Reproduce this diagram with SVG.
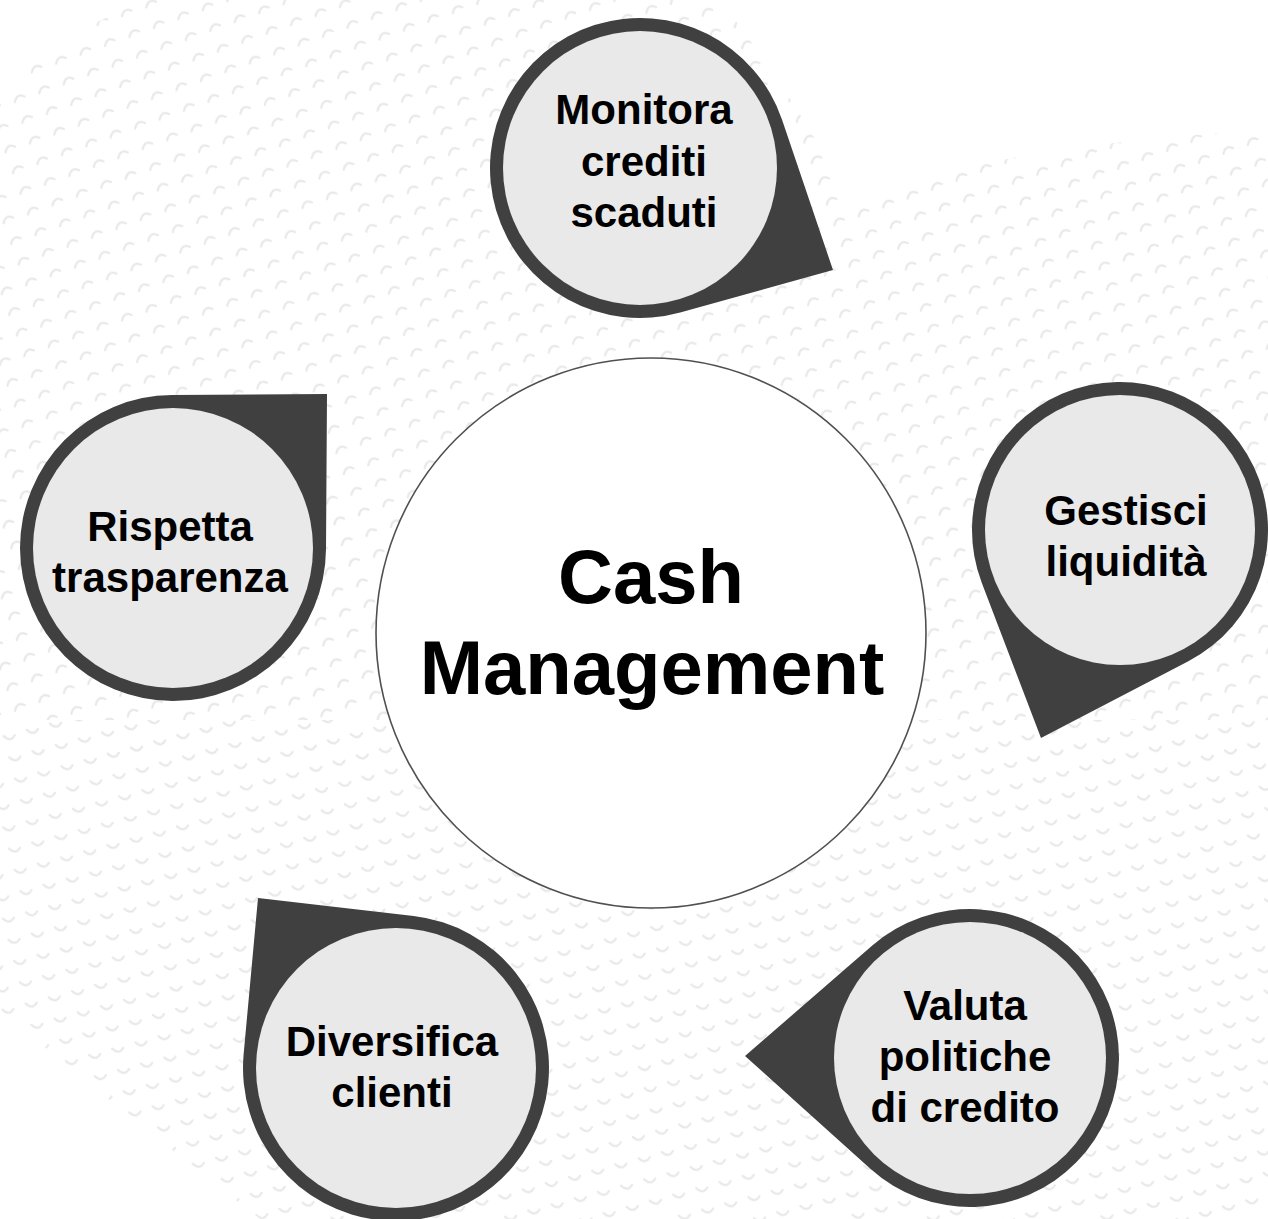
<svg xmlns="http://www.w3.org/2000/svg" width="1268" height="1219" viewBox="0 0 1268 1219">
  <style>
    .ring { fill: #404040; }
    .core { fill: #e9e9e9; }
    .lbl { font-family: "Liberation Sans", Arial, sans-serif; font-weight: bold; font-size: 42px; fill: #000; text-anchor: middle; }
    .hub { font-family: "Liberation Sans", Arial, sans-serif; font-weight: bold; font-size: 76px; fill: #000; text-anchor: middle; }
  </style>
  <defs>
    <pattern id="pUp" width="26" height="22" patternUnits="userSpaceOnUse" patternTransform="rotate(-20)">
      <path d="M5,13 q5,-8 11,-2" fill="none" stroke="#dedede" stroke-width="2.2" stroke-linecap="round"/>
    </pattern>
    <pattern id="pDn" width="24" height="22" patternUnits="userSpaceOnUse" patternTransform="rotate(-15)">
      <path d="M5,8 q5,8 11,2" fill="none" stroke="#dedede" stroke-width="2.2" stroke-linecap="round"/>
    </pattern>
    <clipPath id="bandClip">
      <path d="M0,95 Q60,30 150,0 L720,0 Q790,90 850,200 Q1000,145 1268,130 L1268,1219 L260,1219 Q120,1110 0,1010 Z"/>
    </clipPath>
  </defs>

  <rect width="1268" height="1219" fill="#ffffff"/>
  <g id="background" clip-path="url(#bandClip)" opacity="0.7">
    <rect x="0" y="0" width="1268" height="720" fill="url(#pUp)"/>
    <rect x="0" y="720" width="1268" height="499" fill="url(#pDn)"/>
  </g>

  <g id="connectors"></g>

  <g id="hub">
    <circle cx="651" cy="633" r="275" fill="#ffffff" stroke="#505050" stroke-width="1.6"/>
    <text class="hub" x="651" y="603">Cash</text>
    <text class="hub" x="652" y="694">Management</text>
  </g>

  <g id="node-monitora">
    <path class="ring" transform="translate(640,168) rotate(27.86)" d="M103.07,-108.98 L218.3,0 L103.07,108.98 A150 150 0 1 1 103.07,-108.98 Z"/>
    <circle class="core" cx="640" cy="168" r="137"/>
    <text class="lbl" x="644" y="124">Monitora</text>
    <text class="lbl" x="644" y="176">crediti</text>
    <text class="lbl" x="644" y="227">scaduti</text>
  </g>

  <g id="node-gestisci">
    <path class="ring" transform="translate(1120,530) rotate(110.8)" d="M98.45,-110.5 L222.5,0 L98.45,110.5 A148 148 0 1 1 98.45,-110.5 Z"/>
    <circle class="core" cx="1120" cy="530" r="135"/>
    <text class="lbl" x="1126" y="525">Gestisci</text>
    <text class="lbl" x="1126" y="576">liquidità</text>
  </g>

  <g id="node-valuta">
    <path class="ring" transform="translate(970,1058) rotate(180.5)" d="M98.67,-111.65 L225,0 L98.67,111.65 A149 149 0 1 1 98.67,-111.65 Z"/>
    <circle class="core" cx="970" cy="1058" r="136"/>
    <text class="lbl" x="965" y="1020">Valuta</text>
    <text class="lbl" x="965" y="1071">politiche</text>
    <text class="lbl" x="965" y="1122">di credito</text>
  </g>

  <g id="node-diversifica">
    <path class="ring" transform="translate(396,1068) rotate(-129.07)" d="M106.9,-109.46 L218.96,0 L106.9,109.46 A153 153 0 1 1 106.9,-109.46 Z"/>
    <circle class="core" cx="396" cy="1068" r="140"/>
    <text class="lbl" x="392" y="1056">Diversifica</text>
    <text class="lbl" x="392" y="1107">clienti</text>
  </g>

  <g id="node-rispetta">
    <path class="ring" transform="translate(173,548) rotate(-45)" d="M107.48,-108.9 L217.8,0 L107.48,108.9 A153 153 0 1 1 107.48,-108.9 Z"/>
    <circle class="core" cx="173" cy="548" r="140"/>
    <text class="lbl" x="170" y="541">Rispetta</text>
    <text class="lbl" x="170" y="592">trasparenza</text>
  </g>
</svg>
